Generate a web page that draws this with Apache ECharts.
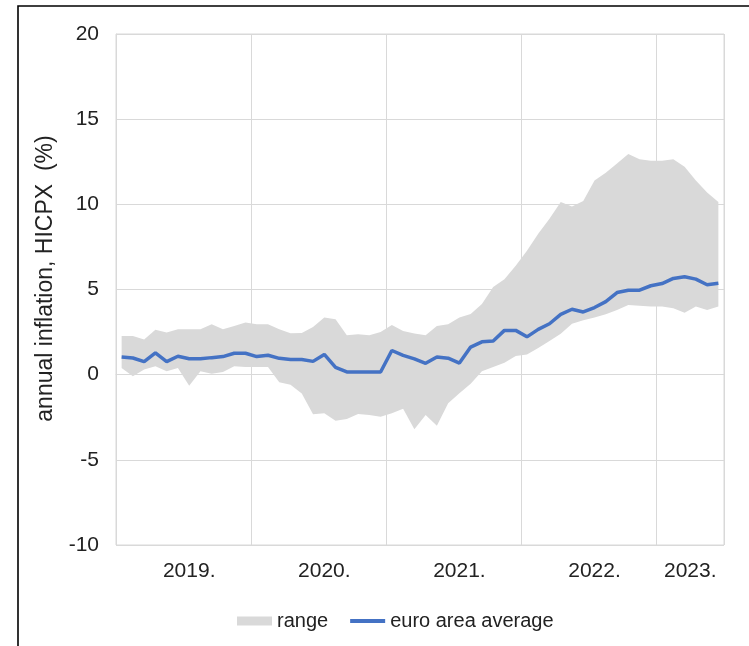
<!DOCTYPE html>
<html>
<head>
<meta charset="utf-8">
<script src="https://cdn.jsdelivr.net/npm/echarts@6/dist/echarts.min.js"></script>
<style>
html,body{margin:0;padding:0;background:#fff;}
#chart{width:749px;height:646px;}
</style>
</head>
<body>
<div id="chart"></div>
<script>
// Months Jan 2019 .. Jun 2023
var months = [];
(function(){ for (var y = 2019; y <= 2023; y++) { for (var m = 1; m <= 12; m++) { if (y === 2023 && m > 6) break; months.push(y + '-' + (m < 10 ? '0' + m : m)); } } })();

var euroAverage = [1.04,0.98,0.77,1.28,0.77,1.08,0.93,0.93,1.00,1.06,1.26,1.26,
                   1.06,1.14,0.96,0.89,0.89,0.78,1.19,0.43,0.16,0.16,0.16,0.16,
                   1.42,1.13,0.93,0.67,1.04,0.97,0.68,1.62,1.93,1.98,2.60,2.60,
                   2.22,2.66,2.99,3.54,3.84,3.68,3.94,4.29,4.82,4.96,4.96,5.22,
                   5.35,5.65,5.75,5.61,5.28,5.37];
var rangeUpper  = [2.27,2.27,2.07,2.63,2.47,2.67,2.67,2.67,2.96,2.67,2.86,3.06,
                   2.96,2.96,2.67,2.43,2.45,2.80,3.35,3.26,2.31,2.37,2.31,2.51,
                   2.92,2.57,2.41,2.31,2.85,2.96,3.36,3.56,4.15,5.15,5.60,6.40,
                   7.28,8.27,9.15,10.14,9.88,10.20,11.40,11.85,12.40,12.95,12.64,12.56,
                   12.56,12.64,12.20,11.40,10.70,10.14];
var rangeLower  = [0.39,-0.10,0.30,0.49,0.20,0.39,-0.65,0.20,0.06,0.16,0.49,0.45,
                   0.45,0.45,-0.44,-0.59,-1.10,-2.33,-2.27,-2.71,-2.61,-2.31,-2.37,-2.47,
                   -2.27,-2.00,-3.20,-2.37,-3.00,-1.68,-1.09,-0.53,0.20,0.45,0.70,1.10,
                   1.18,1.57,1.97,2.40,2.99,3.20,3.35,3.54,3.80,4.09,4.04,4.00,
                   4.00,3.90,3.64,4.00,3.80,4.00];

var yearLabels   = ['2019.','2020.','2021.','2022.','2023.'];
var yearLabelPos = [6.5, 18.5, 30.5, 42.5, 51];
var yTicks = {min: -10, max: 20, step: 5};

var FONT = '"Liberation Sans", Arial, sans-serif';
var bandHeight = rangeUpper.map(function(u, i){ return +(u - rangeLower[i]).toFixed(3); });

var chart = echarts.init(document.getElementById('chart'), null, {renderer: 'canvas'});
chart.setOption({
  backgroundColor: '#fff',
  animation: false,
  textStyle: {fontFamily: FONT},
  grid: {left: 116, right: 25, top: 34, bottom: 101, show: true, borderColor: '#d9d9d9', borderWidth: 1},
  graphic: [
    {type: 'rect', shape: {x: 18, y: 6, width: 800, height: 800}, style: {fill: 'none', stroke: '#000', lineWidth: 1.6}, silent: true},
    {type: 'text', x: 46, y: 278.5, rotation: Math.PI / 2,
     style: {text: 'annual inflation, HICPX  (%)', fill: '#222', font: '23px ' + FONT, align: 'center', verticalAlign: 'middle'}}
  ],
  legend: {
    left: 232, top: 606, padding: 5,
    itemWidth: 35, itemHeight: 9, itemGap: 22, symbolKeepAspect: true,
    textStyle: {fontSize: 20, color: '#222', fontFamily: FONT},
    data: [
      {name: 'range', icon: 'rect'},
      {name: 'euro area average', icon: 'path://M0,0 H35 V4 H0 Z'}
    ]
  },
  xAxis: [
    {
      type: 'category', data: months, boundaryGap: true,
      axisLabel: {show: false}, axisTick: {show: false},
      axisLine: {show: true, lineStyle: {color: '#d9d9d9', width: 1}},
      splitLine: {show: true, interval: 11, lineStyle: {color: '#d9d9d9', width: 1}}
    },
    {
      type: 'value', min: 0, max: months.length, interval: 0.5, position: 'bottom',
      axisLine: {show: false}, axisTick: {show: false}, splitLine: {show: false},
      axisLabel: {
        show: true, margin: 16, fontSize: 21, color: '#222', fontFamily: FONT, showMinLabel: true, showMaxLabel: true,
        formatter: function(v){
          for (var k = 0; k < yearLabelPos.length; k++) { if (Math.abs(v - yearLabelPos[k]) < 0.01) return yearLabels[k]; }
          return '';
        }
      }
    }
  ],
  yAxis: {
    type: 'value', min: yTicks.min, max: yTicks.max, interval: yTicks.step,
    axisLine: {show: true, lineStyle: {color: '#d9d9d9', width: 1}},
    axisTick: {show: false},
    axisLabel: {fontSize: 21, color: '#222', margin: 17, fontFamily: FONT},
    splitLine: {show: true, lineStyle: {color: '#d9d9d9', width: 1}}
  },
  series: [
    {
      name: 'lower', type: 'line', xAxisIndex: 0, data: rangeLower, stack: 'range', stackStrategy: 'all',
      symbol: 'none', lineStyle: {width: 0, opacity: 0}, silent: true, z: 1
    },
    {
      name: 'range', type: 'line', xAxisIndex: 0, data: bandHeight, stack: 'range', stackStrategy: 'all',
      symbol: 'none', lineStyle: {width: 0, opacity: 0}, itemStyle: {color: '#d9d9d9'},
      areaStyle: {color: '#d9d9d9', opacity: 1}, silent: true, z: 2
    },
    {
      name: 'euro area average', type: 'line', xAxisIndex: 0, data: euroAverage,
      symbol: 'none', itemStyle: {color: '#4472c4'}, lineStyle: {color: '#4472c4', width: 3.5}, z: 3
    }
  ]
});
</script>
</body>
</html>
